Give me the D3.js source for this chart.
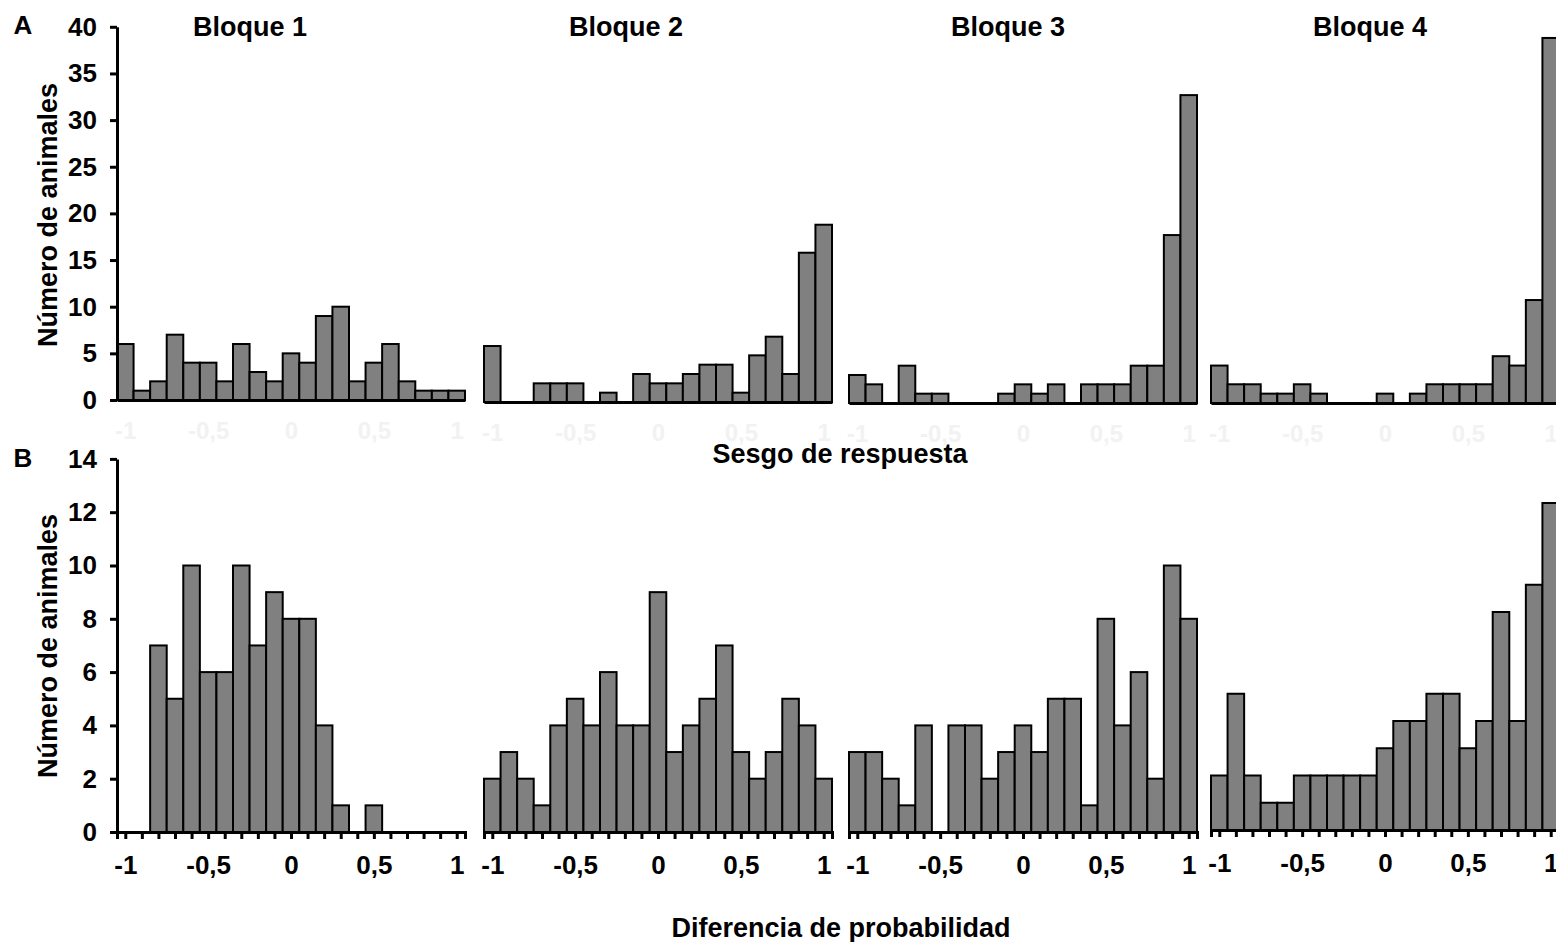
<!DOCTYPE html>
<html>
<head>
<meta charset="utf-8">
<script src="https://cdnjs.cloudflare.com/ajax/libs/d3/7.8.5/d3.min.js"></script>
<style>
body { margin: 0; background: #fff; }
svg { display: block; font-family: "Liberation Sans", Arial, sans-serif; font-weight: bold; }
</style>
</head>
<body>
<div id="chart"></div>
<script>
// bin centres shared by every histogram
const binCenters = [-1, -0.9, -0.8, -0.7, -0.6, -0.5, -0.4, -0.3, -0.2, -0.1, 0, 0.1, 0.2, 0.3, 0.4, 0.5, 0.6, 0.7, 0.8, 0.9, 1]
const blockNames = ["Bloque 1", "Bloque 2", "Bloque 3", "Bloque 4"]

// A - sesgo de respuesta
const sesgo1 = [6, 1, 2, 7, 4, 4, 2, 6, 3, 2, 5, 4, 9, 10, 2, 4, 6, 2, 1, 1, 1]
const sesgo2 = [6, 0, 0, 2, 2, 2, 0, 1, 0, 3, 2, 2, 3, 4, 4, 1, 5, 7, 3, 16, 19]
const sesgo3 = [3, 2, 0, 4, 1, 1, 0, 0, 0, 1, 2, 1, 2, 0, 2, 2, 2, 4, 4, 18, 33]
const sesgo4 = [4, 2, 2, 1, 1, 2, 1, 0, 0, 0, 1, 0, 1, 2, 2, 2, 2, 5, 4, 11, 39]

// B - diferencia de probabilidad
const dif1 = [0, 0, 7, 5, 10, 6, 6, 10, 7, 9, 8, 8, 4, 1, 0, 1, 0, 0, 0, 0, 0]
const dif2 = [2, 3, 2, 1, 4, 5, 4, 6, 4, 4, 9, 3, 4, 5, 7, 3, 2, 3, 5, 4, 2]
const dif3 = [3, 3, 2, 1, 4, 0, 4, 4, 2, 3, 4, 3, 5, 5, 1, 8, 4, 6, 2, 10, 8]
const dif4 = [2, 5, 2, 1, 1, 2, 2, 2, 2, 2, 3, 4, 4, 5, 5, 3, 4, 8, 4, 9, 12]

const xTickLabels = [-1, -0.5, 0, 0.5, 1]
const yTicksA = [0, 5, 10, 15, 20, 25, 30, 35, 40]
const yTicksB = [0, 2, 4, 6, 8, 10, 12, 14]

const w = 1556
const h = 942
const blockLeft = [117, 484, 849, 1211]
const blockW = 348
const half = 0.05

const svg = d3.select("#chart").append("svg")
	.attr("width", w)
	.attr("height", h)

const fmt = d => String(d).replace(".", ",")
const isLabel = d => xTickLabels.some(t => Math.abs(t - d) < 1e-9)

function drawBlock(data, i, opt) {
	const x = d3.scaleLinear()
		.domain([-1.05, 1.05])
		.range([blockLeft[i], blockLeft[i] + blockW])
	const y = d3.scaleLinear()
		.domain([0, opt.max])
		.range([opt.base[i], opt.base[i] - opt.unit[i] * opt.max])

	const g = svg.append("g")

	g.selectAll("rect")
		.data(data.map((v, k) => ({ c: binCenters[k], v })).filter(d => d.v > 0))
		.enter()
		.append("rect")
		.attr("x", d => x(d.c - half))
		.attr("width", d => x(d.c + half) - x(d.c - half))
		.attr("y", d => y(d.v))
		.attr("height", d => y(0) - y(d.v))
		.attr("fill", "#808080")
		.attr("stroke", "#000")
		.attr("stroke-width", 2)

	const xAxis = d3.axisBottom(x)
		.tickValues(opt.ticks ? binCenters : xTickLabels)
		.tickSize(opt.ticks ? 7 : 0)
		.tickSizeOuter(opt.ticks ? 7 : 0)
		.tickPadding(opt.ticks ? 17 : 22)
		.tickFormat(d => isLabel(d) ? fmt(d) : "")

	const ax = g.append("g")
		.attr("transform", `translate(0,${y(0)})`)
		.call(xAxis)
	ax.select(".domain").attr("stroke-width", 3)
	ax.selectAll(".tick line").attr("stroke-width", 3)
	ax.selectAll("text")
		.attr("font-size", opt.ticks ? 26 : 24)
		.attr("font-family", "Liberation Sans, Arial, sans-serif")
		.attr("font-weight", "bold")
		.attr("fill", opt.ticks ? "#000" : "#f2f2f2")

	if (i === 0) {
		const yAxis = d3.axisLeft(y)
			.tickValues(opt.yTicks)
			.tickSize(7)
			.tickSizeOuter(0)
			.tickPadding(13)
		const ay = g.append("g")
			.attr("transform", `translate(${blockLeft[0]},0)`)
			.call(yAxis)
		ay.select(".domain").attr("stroke-width", 3)
		ay.selectAll(".tick line").attr("stroke-width", 3)
		ay.selectAll("text")
			.attr("font-size", 26)
			.attr("font-family", "Liberation Sans, Arial, sans-serif")
			.attr("font-weight", "bold")
			.attr("fill", "#000")
	}
}

const optA = { max: 40, base: [400, 402, 403, 403], unit: [9.33, 9.33, 9.33, 9.36], yTicks: yTicksA, ticks: false }
const optB = { max: 14, base: [832, 832, 832, 830], unit: [26.65, 26.65, 26.65, 27.25], yTicks: yTicksB, ticks: true }

;[sesgo1, sesgo2, sesgo3, sesgo4].forEach((d, i) => drawBlock(d, i, optA))
;[dif1, dif2, dif3, dif4].forEach((d, i) => drawBlock(d, i, optB))

// titles and labels
const titleX = [250, 626, 1008, 1370]
svg.selectAll(".block-title")
	.data(blockNames)
	.enter()
	.append("text")
	.attr("class", "block-title")
	.attr("x", (d, i) => titleX[i])
	.attr("y", 36)
	.attr("text-anchor", "middle")
	.attr("font-size", 27)
	.text(d => d)

svg.append("text").attr("x", 23).attr("y", 34).attr("text-anchor", "middle").attr("font-size", 26).text("A")
svg.append("text").attr("x", 23).attr("y", 467).attr("text-anchor", "middle").attr("font-size", 26).text("B")

svg.append("text")
	.attr("x", 840).attr("y", 463)
	.attr("text-anchor", "middle")
	.attr("font-size", 27)
	.text("Sesgo de respuesta")

svg.append("text")
	.attr("x", 841).attr("y", 937)
	.attr("text-anchor", "middle")
	.attr("font-size", 27)
	.text("Diferencia de probabilidad")

;[215, 646].forEach(cy => {
	svg.append("text")
		.attr("transform", `translate(57,${cy}) rotate(-90)`)
		.attr("text-anchor", "middle")
		.attr("font-size", 27)
		.text("Número de animales")
})
</script>
</body>
</html>
